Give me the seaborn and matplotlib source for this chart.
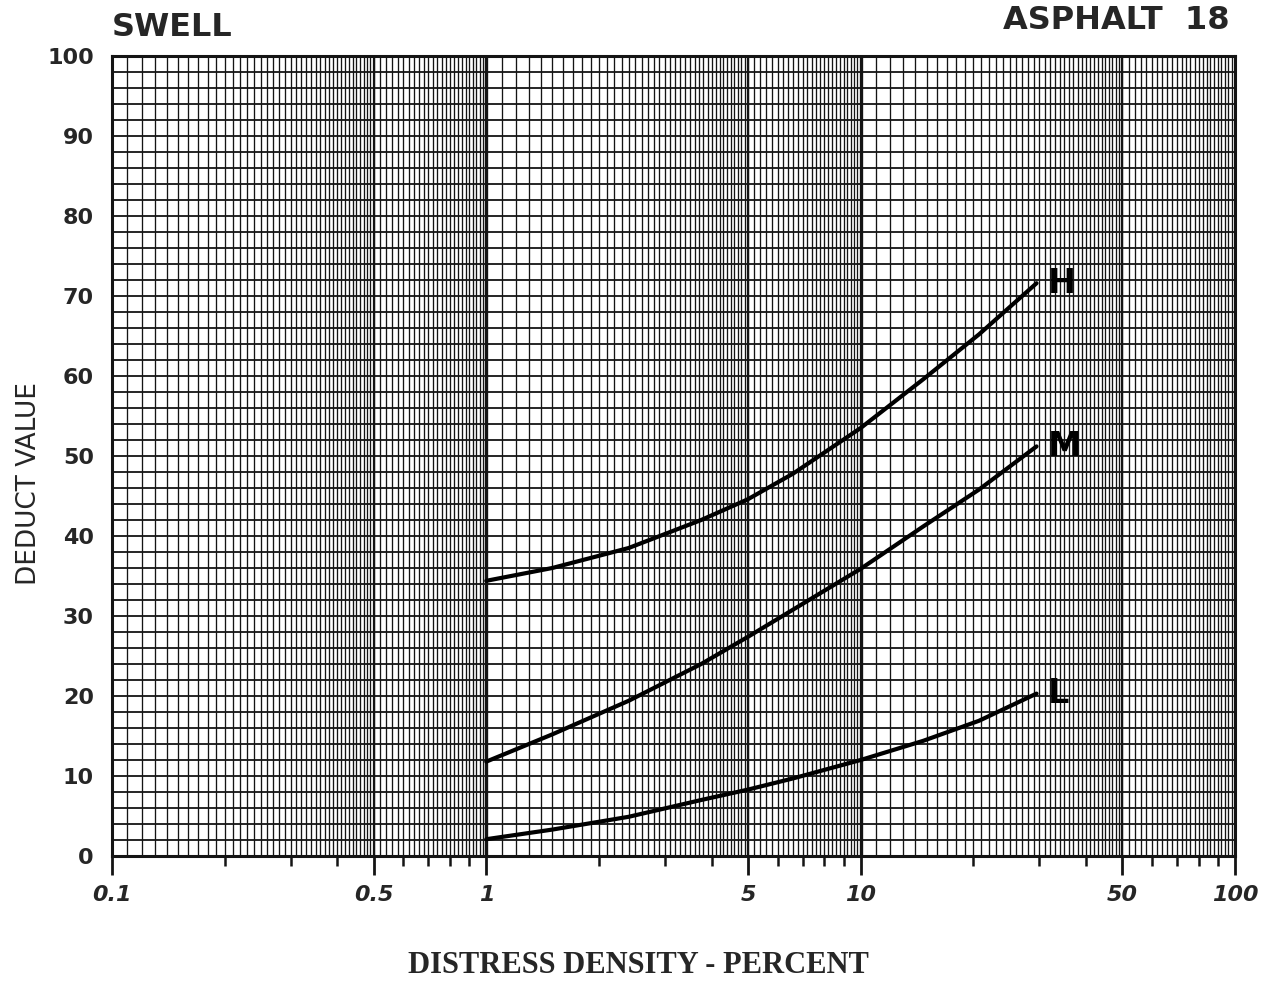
import numpy as np
import pandas as pd
import matplotlib
matplotlib.use("Agg")
import matplotlib.pyplot as plt
import seaborn as sns

# ---- data ----
density = [1, 1.5, 2.4, 3.75, 5, 6.6, 10, 14.7, 20.7, 29.5]
deduct_H = [34.4, 36.0, 38.5, 42.0, 44.6, 47.8, 53.5, 59.6, 65.2, 71.6]
deduct_M = [11.8, 15.2, 19.4, 24.0, 27.4, 30.8, 35.9, 41.2, 45.8, 51.2]
deduct_L = [2.1, 3.3, 4.9, 7.0, 8.3, 9.7, 12.0, 14.4, 16.9, 20.3]
severity = ["H", "M", "L"]
x_major_ticks = [0.1, 0.5, 1, 5, 10, 50, 100]
x_major_labels = ["0.1", "0.5", "1", "5", "10", "50", "100"]
y_ticks = [0, 10, 20, 30, 40, 50, 60, 70, 80, 90, 100]

df = pd.DataFrame({
    "density": density * 3,
    "deduct": deduct_H + deduct_M + deduct_L,
    "severity": [s for s in severity for _ in density],
})

sns.set_style("white")
plt.rcParams["font.family"] = ["DejaVu Sans"]

fig = plt.figure(figsize=(12.81, 9.83), dpi=100)
ax = fig.add_axes([0.0874, 0.1292, 0.8767, 0.8138])
ax.set_xscale("log")
ax.set_xlim(0.1, 100)
ax.set_ylim(0, 100)

ink = "#141414"
# graph-paper grid
grid_x = []
for d in [0.1, 1, 10]:
    grid_x += list(np.arange(10, 20, 1) / 10 * d)
    grid_x += list(np.arange(20, 50, 1) / 10 * d)
    grid_x += list(np.arange(50, 100, 2) / 10 * d)
for gx in grid_x:
    ax.axvline(gx, color=ink, lw=0.95, zorder=1)
for gx in [1, 10]:
    ax.axvline(gx, color=ink, lw=2.4, zorder=1)
for gx in [0.5, 5, 50]:
    ax.axvline(gx, color=ink, lw=1.6, zorder=1)
for gy in np.arange(0, 101, 2):
    ax.axhline(gy, color=ink, lw=1.3, zorder=1)

palette = {"H": "#000000", "M": "#000000", "L": "#000000"}
sns.lineplot(data=df, x="density", y="deduct", hue="severity", palette=palette,
             lw=3.0, legend=False, ax=ax, zorder=3)

for s, vals in zip(severity, [deduct_H, deduct_M, deduct_L]):
    ax.text(density[-1] * 1.07, vals[-1], s, fontsize=24, fontweight="bold",
            ha="left", va="center", color="#000000", zorder=4)

# ticks
ax.set_xticks(x_major_ticks)
ax.set_xticklabels(x_major_labels)
minor = []
for d in [0.1, 1, 10]:
    minor += [m * d for m in [2, 3, 4, 6, 7, 8, 9]]
ax.set_xticks(minor, minor=True)
ax.xaxis.set_minor_formatter(matplotlib.ticker.NullFormatter())
ax.tick_params(axis="x", which="major", direction="out", length=14, width=2.0,
               color=ink, labelsize=16, pad=7, bottom=True)
ax.tick_params(axis="x", which="minor", direction="out", length=7, width=1.8,
               color=ink, bottom=True)
for lab in ax.get_xticklabels():
    lab.set_fontweight("bold")
    lab.set_fontstyle("italic")

ax.set_yticks(y_ticks)
ax.set_yticklabels([str(v) for v in y_ticks])
ax.tick_params(axis="y", length=0, labelsize=16, pad=13)
for lab in ax.get_yticklabels():
    lab.set_fontweight("bold")

for sp in ax.spines.values():
    sp.set_visible(True)
    sp.set_color(ink)
    sp.set_linewidth(2.2)

ax.set_xlabel("")
ax.set_ylabel("DEDUCT VALUE", fontsize=19)
ax.yaxis.set_label_coords(-0.062, 0.466)

fig.text(0.0874, 0.972, "SWELL", fontsize=23, fontweight="bold", ha="left", va="center")
fig.text(0.960, 0.979, "ASPHALT  18", fontsize=23, fontweight="bold", ha="right", va="center")
fig.text(0.498, 0.018, "DISTRESS DENSITY - PERCENT", fontsize=22, fontweight="bold",
         family=["Liberation Serif"], ha="center", va="center")

fig.savefig("out.png", dpi=100, facecolor="white")
